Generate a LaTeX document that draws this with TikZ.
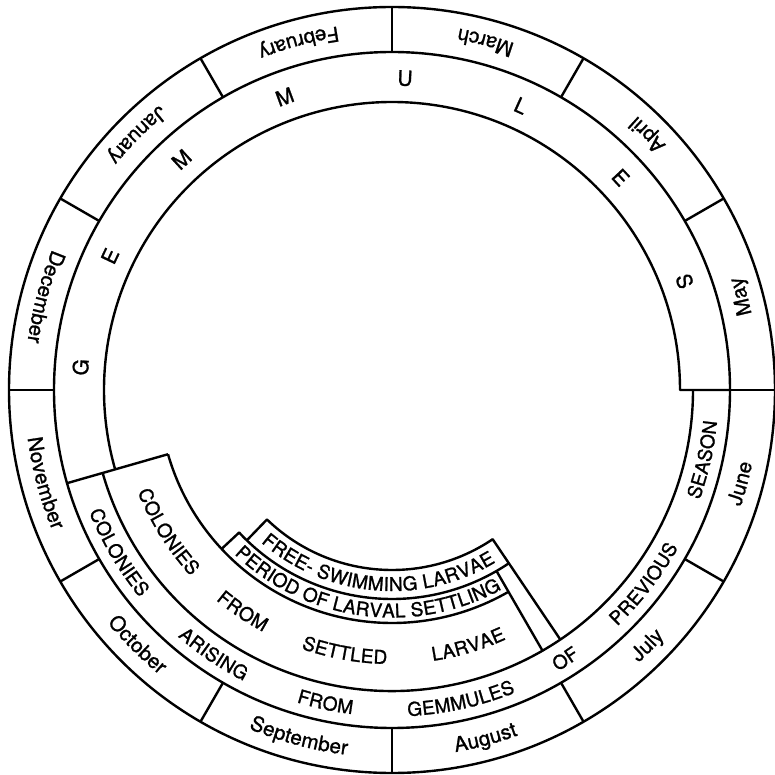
\documentclass[tikz,border=0pt]{standalone}
\usepackage{fontspec}
\setmainfont{TeX Gyre Heros}[FakeBold=1.2]
\usetikzlibrary{decorations.text}
\newcommand\ccwtext[5]{% radius, centre angle, raise, font, text  (tops towards centre)
  \path[decorate,decoration={text along path,text align=center,raise=#3,text={|#4|#5}}]
    ({#2-60}:#1) arc[start angle={#2-60}, end angle={#2+60}, radius=#1];}
\newcommand\cwtext[5]{% radius, centre angle, raise, font, text  (tops outward)
  \path[decorate,decoration={text along path,text align=center,raise=#3,text={|#4|#5}}]
    ({#2+60}:#1) arc[start angle={#2+60}, end angle={#2-60}, radius=#1];}
\newcommand\monthfont{\fontsize{20.5}{22}\selectfont}
\newcommand\capfont{\fontsize{19}{21}\selectfont}
\newcommand\bigfont{\fontsize{21}{23}\selectfont}
\begin{document}
\begin{tikzpicture}[line width=2.4pt, line join=round,
  ring/.style={draw=black}]
\useasboundingbox (-392pt,-385pt) rectangle (383pt,390pt);
\def\Ra{383pt}\def\Rb{338pt}\def\Rc{288pt}\def\Rd{301pt}
\def\Re{233pt}\def\Rf{209pt}\def\Rg{180pt}
% rings
\draw[ring] (0,0) circle[radius=\Ra];
\draw[ring] (0,0) circle[radius=\Rb];
\foreach \a in {0,30,...,330}{\draw[ring] (\a:\Rb) -- (\a:\Ra);}
% gemmules band inner edge
\draw[ring] (0:\Rb) -- (0:\Rc) arc[start angle=0, end angle=196, radius=\Rc];
\draw[ring] (196:\Rb) -- (196:\Re);
% colonies arising band
\draw[ring] (196:\Rd) arc[start angle=196, end angle=360, radius=\Rd];
% colonies from settled larvae
\draw[ring] (196:\Re) arc[start angle=196, end angle=300, radius=\Re];
\draw[ring] (300:\Rf) -- (300:\Rd);
% period of larval settling
\draw[ring] (223:\Re) -- (223:\Rf) arc[start angle=223, end angle=304, radius=\Rf];
% free-swimming larvae
\draw[ring] (226:\Rf) -- (226:\Rg) arc[start angle=226, end angle=304, radius=\Rg] -- (304:\Rd);
% months
\foreach \ang/\m in {105/February,135/January,165/December,195/November,225/October,
  255/September,285/August,315/July,345/June,15/May,45/April,75/March}{
  \ccwtext{360.5pt}{\ang}{-7pt}{\monthfont}{\m}}
% GEMMULES
\foreach \ang/\l in {175.8/G,154.6/E,132.4/M,110.1/M,87.6/U,65.6/L,42.9/E,20.4/S}{
  \cwtext{312pt}{\ang}{-7.5pt}{\bigfont}{\l}}
% outer band words
\foreach \ang/\w in {210.7/COLONIES,236/ARISING,258/FROM,282.5/GEMMULES,302.8/OF,322.4/PREVIOUS,347.4/SEASON}{
  \ccwtext{319.5pt}{\ang}{-7pt}{\capfont}{\w}}
% inner band words
\foreach \ang/\w in {212.3/COLONIES,236/FROM,259.8/SETTLED,286.6/LARVAE}{
  \ccwtext{267pt}{\ang}{-7pt}{\capfont}{\w}}
\ccwtext{221pt}{262.5}{-6.5pt}{\capfont}{PERIOD OF LARVAL SETTLING}
\ccwtext{194.5pt}{265.2}{-6.5pt}{\capfont}{FREE- SWIMMING LARVAE}
\end{tikzpicture}
\end{document}
